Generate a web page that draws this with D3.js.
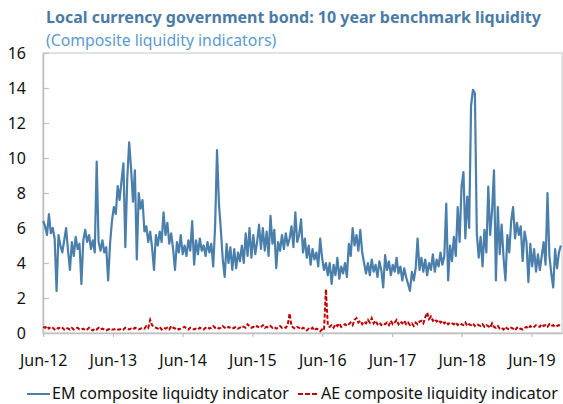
<!DOCTYPE html>
<html>
<head>
<meta charset="utf-8">
<script src="https://cdn.jsdelivr.net/npm/d3@7"></script>
<style>
  html, body { margin: 0; padding: 0; background: #fff; }
  svg { display: block; font-family: "Noto Sans", "Open Sans", sans-serif; }
</style>
</head>
<body>
<script>
// ---------------- DATA ----------------
const titleText = "Local currency government bond: 10 year benchmark liquidity";
const subtitleText = "(Composite liquidity indicators)";
const seriesNames = ["EM composite liquidty indicator", "AE composite liquidity indicator"];
const startDate = "2012-06-01";
const stepDays = 10;
const emValues = [
  6.4, 6.1, 5.6, 6.8, 5.7, 6.0, 5.4, 2.4, 5.6, 5.0,
  4.6, 5.3, 6.0, 4.7, 3.6, 5.2, 4.4, 5.5, 4.8, 5.1,
  2.8, 5.3, 5.9, 5.2, 5.6, 4.8, 5.3, 4.6, 9.8, 5.2,
  4.7, 5.3, 4.6, 4.9, 3.0, 5.1, 6.4, 7.2, 6.8, 8.4,
  7.6, 8.7, 9.7, 4.9, 8.8, 10.9, 9.4, 7.5, 9.3, 4.2,
  8.0, 7.1, 7.6, 5.8, 6.1, 5.2, 5.8, 4.9, 3.6, 5.6,
  5.0, 5.8, 5.2, 6.9, 5.6, 6.3, 5.1, 5.7, 4.8, 3.6,
  5.2, 4.6, 5.6, 4.5, 5.0, 4.4, 5.3, 4.7, 6.4, 3.9,
  5.3, 4.5, 5.4, 4.7, 5.0, 4.4, 5.2, 4.6, 5.1, 3.8,
  6.1, 10.45, 7.4, 5.9, 4.2, 3.2, 5.1, 4.0, 4.9, 3.6,
  4.8, 3.7, 4.6, 4.1, 5.0, 4.0, 5.7, 4.4, 6.0, 4.3,
  5.6, 4.5, 5.2, 6.2, 4.8, 6.0, 4.7, 5.8, 4.4, 6.7,
  5.1, 5.9, 3.7, 5.2, 4.7, 5.6, 4.8, 5.7, 5.0, 5.4,
  6.1, 4.9, 6.9, 5.2, 5.6, 6.5, 4.6, 5.4, 4.3, 5.0,
  3.9, 4.8, 4.2, 4.6, 3.8, 5.4, 4.3, 3.6, 4.0, 3.3,
  4.0, 2.8, 3.9, 3.3, 4.3, 3.1, 3.8, 3.4, 4.0, 3.2,
  5.1, 4.4, 6.0, 5.0, 5.6, 4.7, 5.9, 4.6, 4.0, 3.4,
  4.0, 3.3, 4.2, 3.5, 3.9, 3.2, 4.1, 3.6, 2.6, 4.45,
  3.6, 4.1, 3.3, 3.9, 3.5, 4.3, 3.4, 3.8, 3.0, 3.7,
  3.2, 2.8, 2.4, 3.5, 3.0, 3.7, 5.4, 3.6, 4.3, 3.5,
  4.2, 3.3, 4.0, 3.6, 4.5, 3.5, 4.2, 3.8, 4.6, 3.9,
  4.4, 7.4, 3.0, 5.0, 4.1, 5.5, 4.4, 7.2, 5.2, 8.35,
  9.2, 5.4, 7.8, 6.0, 13.0, 13.9, 13.7, 5.7, 4.3, 5.5,
  3.8, 5.9, 4.6, 8.36, 5.6, 7.0, 9.3, 3.0, 7.2, 4.5,
  6.2, 4.3, 3.0, 5.6, 4.6, 6.4, 7.2, 5.4, 6.3, 5.6,
  6.1, 4.1, 5.8, 5.2, 2.9, 5.1, 3.8, 4.8, 3.5, 4.5,
  3.6, 4.4, 5.2, 3.9, 8.0, 4.4, 3.4, 2.6, 4.8, 3.7,
  4.6, 5.0
];
const aeValues = [
  0.35, 0.3, 0.4, 0.25, 0.35, 0.3, 0.2, 0.3, 0.25, 0.35,
  0.3, 0.2, 0.3, 0.25, 0.2, 0.3, 0.2, 0.25, 0.3, 0.2,
  0.2, 0.25, 0.15, 0.2, 0.3, 0.2, 0.15, 0.25, 0.2, 0.3,
  0.2, 0.25, 0.2, 0.15, 0.2, 0.25, 0.2, 0.2, 0.25, 0.2,
  0.2, 0.25, 0.2, 0.3, 0.25, 0.2, 0.25, 0.2, 0.3, 0.25,
  0.2, 0.25, 0.3, 0.25, 0.4, 0.3, 0.75, 0.45, 0.35, 0.3,
  0.25, 0.35, 0.2, 0.3, 0.25, 0.3, 0.2, 0.4, 0.3, 0.25,
  0.3, 0.2, 0.25, 0.3, 0.35, 0.25, 0.2, 0.3, 0.25, 0.2,
  0.25, 0.2, 0.3, 0.25, 0.2, 0.3, 0.35, 0.25, 0.3, 0.4,
  0.3, 0.35, 0.25, 0.3, 0.4, 0.3, 0.25, 0.35, 0.3, 0.25,
  0.3, 0.35, 0.25, 0.3, 0.4, 0.35, 0.3, 0.5, 0.4, 0.3,
  0.35, 0.3, 0.4, 0.3, 0.35, 0.45, 0.3, 0.35, 0.3, 0.4,
  0.3, 0.35, 0.25, 0.3, 0.4, 0.3, 0.35, 0.3, 0.45, 1.12,
  0.4, 0.3, 0.25, 0.35, 0.3, 0.2, 0.3, 0.25, 0.15, 0.25,
  0.2, 0.3, 0.15, 0.25, 0.2, 0.1, 0.2, 0.15, 2.5, 0.4,
  0.35, 0.45, 0.3, 0.5, 0.4, 0.55, 0.35, 0.45, 0.5, 0.4,
  0.5, 0.6, 0.45, 0.75, 0.85, 0.6, 0.7, 0.5, 0.65, 0.55,
  0.75, 0.6, 0.85, 0.55, 0.7, 0.5, 0.6, 0.45, 0.55, 0.5,
  0.6, 0.45, 0.7, 0.5, 0.6, 0.75, 0.5, 0.65, 0.55, 0.7,
  0.5, 0.6, 0.45, 0.55, 0.4, 0.6, 0.5, 0.65, 0.7, 0.55,
  0.9, 1.16, 0.8, 0.95, 0.7, 0.8, 0.65, 0.75, 0.6, 0.7,
  0.55, 0.65, 0.5, 0.6, 0.55, 0.5, 0.6, 0.45, 0.55, 0.5,
  0.45, 0.6, 0.4, 0.5, 0.45, 0.55, 0.4, 0.5, 0.45, 0.4,
  0.5, 0.35, 0.45, 0.4, 0.3, 0.55, 0.35, 0.3, 0.4, 0.25,
  0.3, 0.2, 0.35, 0.25, 0.2, 0.3, 0.25, 0.15, 0.3, 0.2,
  0.25, 0.2, 0.3, 0.35, 0.25, 0.4, 0.3, 0.35, 0.45, 0.4,
  0.35, 0.5, 0.4, 0.45, 0.35, 0.5, 0.4, 0.45, 0.35, 0.4,
  0.45, 0.4
];
const xTickLabels = ["Jun-12", "Jun-13", "Jun-14", "Jun-15", "Jun-16", "Jun-17", "Jun-18", "Jun-19"];
const xTickDates = ["2012-06-01", "2013-06-01", "2014-06-01", "2015-06-01", "2016-06-01", "2017-06-01", "2018-06-01", "2019-06-01"];
const yTicks = [0, 2, 4, 6, 8, 10, 12, 14, 16];
const xDomain = ["2012-06-01", "2019-11-08"];

// ---------------- CHART ----------------
const W = 563, H = 404;
const plotL = 43, plotR = 562, plotT = 53, plotB = 333;
const parse = d3.utcParse("%Y-%m-%d");
const start = parse(startDate);
const em = emValues.map((v, i) => ({ date: d3.utcDay.offset(start, i * stepDays), value: v }));
const ae = aeValues.map((v, i) => ({ date: d3.utcDay.offset(start, i * stepDays), value: v }));

const svg = d3.select("body").append("svg").attr("width", W).attr("height", H);

const x = d3.scaleUtc().domain(xDomain.map(parse)).range([plotL + 0.2, plotR]);
const y = d3.scaleLinear().domain([0, 16]).range([plotB, plotT]);

// titles
svg.append("text").attr("x", 46).attr("y", 23)
  .attr("font-size", 16).attr("font-weight", 700).attr("fill", "#4a7ba6")
  .text(titleText);
svg.append("text").attr("x", 46).attr("y", 46)
  .attr("font-size", 15.8).attr("fill", "#5b9bd5")
  .text(subtitleText);

// plot frame
svg.append("rect").attr("x", plotL).attr("y", plotT)
  .attr("width", plotR - plotL).attr("height", plotB - plotT)
  .attr("fill", "none").attr("stroke", "#d9d9d9").attr("stroke-width", 1.5);

// y axis
const yAxis = svg.append("g").attr("transform", `translate(${plotL},0)`)
  .call(d3.axisLeft(y).tickValues(yTicks).tickSizeInner(-6).tickSizeOuter(0).tickPadding(17).tickFormat(d3.format("d")));
yAxis.select(".domain").attr("stroke", "#bfbfbf").attr("stroke-width", 1.5);
yAxis.selectAll(".tick line").attr("stroke", "#bfbfbf").attr("stroke-width", 1.2);
yAxis.selectAll("text").attr("font-size", 16).attr("fill", "#111").attr("font-family", "Noto Sans, sans-serif");

// x axis
const xAxis = svg.append("g").attr("transform", `translate(0,${plotB})`)
  .call(d3.axisBottom(x).tickValues(xTickDates.map(parse)).tickSizeInner(4).tickSizeOuter(0)
    .tickFormat((d, i) => xTickLabels[i]));
xAxis.select(".domain").attr("stroke", "#bfbfbf").attr("stroke-width", 1.5);
xAxis.selectAll(".tick line").attr("stroke", "#bfbfbf").attr("stroke-width", 1.2);
xAxis.selectAll("text").attr("font-size", 16).attr("fill", "#111").attr("y", 33).attr("dy", 0)
  .attr("font-family", "Noto Sans, sans-serif");

// lines
const line = d3.line().x(d => x(d.date)).y(d => y(d.value));
svg.append("path").datum(em).attr("d", line)
  .attr("fill", "none").attr("stroke", "#4a7eab").attr("stroke-width", 2.2).attr("stroke-linejoin", "round");
svg.append("path").datum(ae).attr("d", line)
  .attr("fill", "none").attr("stroke", "#c00000").attr("stroke-width", 2).attr("stroke-dasharray", "4,2");

// legend
const lg = svg.append("g");
lg.append("line").attr("x1", 27).attr("x2", 50).attr("y1", 394).attr("y2", 394)
  .attr("stroke", "#4a7eab").attr("stroke-width", 2);
lg.append("text").attr("x", 52).attr("y", 399).attr("font-size", 16).attr("fill", "#111").text(seriesNames[0]);
lg.append("line").attr("x1", 298).attr("x2", 318).attr("y1", 394).attr("y2", 394)
  .attr("stroke", "#c00000").attr("stroke-width", 2).attr("stroke-dasharray", "5,2");
lg.append("text").attr("x", 321).attr("y", 399).attr("font-size", 16).attr("fill", "#111").text(seriesNames[1]);
</script>
</body>
</html>
